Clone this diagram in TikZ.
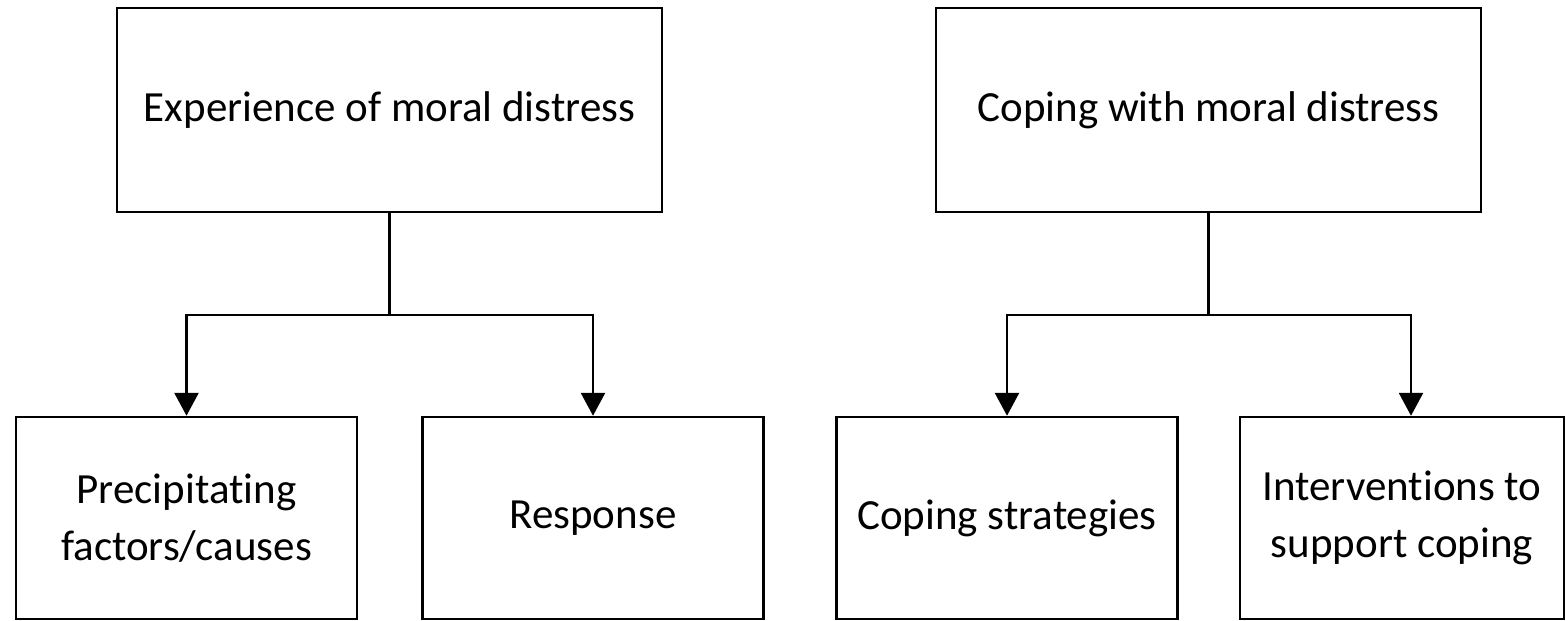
\documentclass[tikz,border=0pt]{standalone}
\usepackage{fontspec}
\setmainfont{Carlito}[Ligatures=NoCommon]
\usepackage{tikz}
\usetikzlibrary{positioning,arrows.meta}

\tikzset{
  box/.style={draw, line width=2.5pt, align=center, inner sep=0pt,
    font=\fontsize{43}{57}\selectfont},
  topbox/.style={box, minimum width=545pt, minimum height=204pt},
  subbox/.style={box, minimum width=341pt, minimum height=202pt},
  conn/.style={line width=2.8pt, -{Triangle[width=24pt,length=23pt]}}
}

\begin{document}
\begin{tikzpicture}[x=1pt,y=-1pt]
\useasboundingbox (0,0) rectangle (1566,621);
\node[topbox] (exp) at (389.5,110) {Experience of moral distress};
\node[topbox] (cope) at (1208.5,110) {Coping with moral distress};
\node[subbox] (cause) at (186.5,518) {Precipitating\\factors/causes};
\node[subbox] (resp) at (593,518) {Response};
\node[subbox] (strat) at (1007,518) {Coping strategies};
\node[box, minimum width=324pt, minimum height=202pt] (support) at (1402,518) {Interventions to\\support coping};
\coordinate (expfork) at (389.5,315);
\coordinate (copefork) at (1208.5,315);
\draw[line width=2.8pt] (exp.south) -- (expfork);
\draw[conn] (expfork) -| (cause.north);
\draw[conn] (expfork) -| (resp.north);
\draw[line width=2.8pt] (cope.south) -- (copefork);
\draw[conn] (copefork) -| (strat.north);
\draw[conn] (copefork) -| ([xshift=9pt]support.north);
\end{tikzpicture}
\end{document}
